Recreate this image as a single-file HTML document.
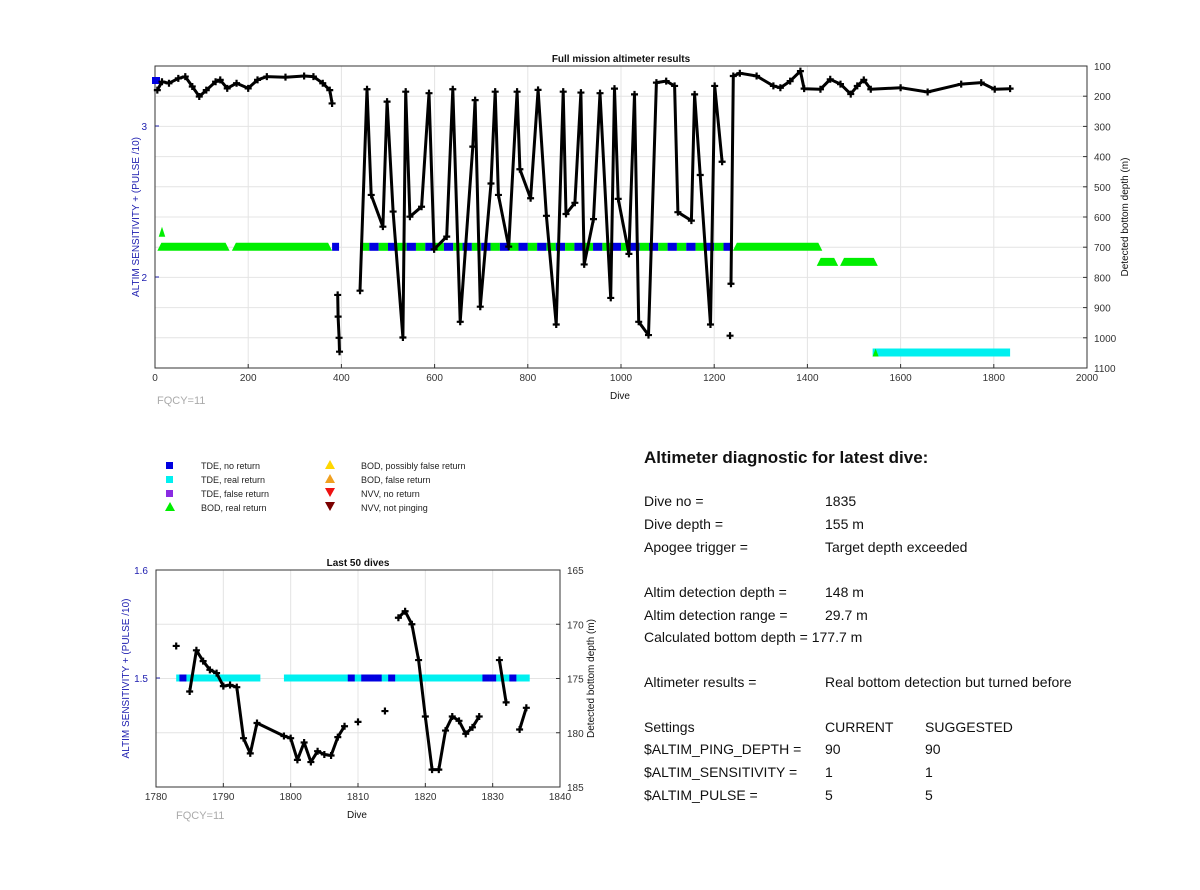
<!DOCTYPE html>
<html><head><meta charset="utf-8"><style>
body{margin:0;background:#fff;}
svg{font-family:"Liberation Sans",sans-serif;}
</style></head><body>
<svg width="1200" height="885" viewBox="0 0 1200 885">
<g id="main"></g>
<g id="small"></g>
<g font-size="9" fill="#222">
 <rect x="166" y="462" width="7" height="7" fill="#0000e0"/>
 <text x="201" y="469">TDE, no return</text>
 <rect x="166" y="476" width="7" height="7" fill="#00f0f0"/>
 <text x="201" y="483">TDE, real return</text>
 <rect x="166" y="490" width="7" height="7" fill="#8a2be2"/>
 <text x="201" y="497">TDE, false return</text>
 <polygon points="170,502 165,511 175,511" fill="#00ee00"/>
 <text x="201" y="511">BOD, real return</text>
 <polygon points="330,460 325,469 335,469" fill="#ffd700"/>
 <text x="361" y="469">BOD, possibly false return</text>
 <polygon points="330,474 325,483 335,483" fill="#f0a020"/>
 <text x="361" y="483">BOD, false return</text>
 <polygon points="325,488 335,488 330,497" fill="#ee1111"/>
 <text x="361" y="497">NVV, no return</text>
 <polygon points="325,502 335,502 330,511" fill="#7a0000"/>
 <text x="361" y="511">NVV, not pinging</text>
</g>
<g font-size="14" fill="#111">
 <text x="644" y="463" font-size="17" font-weight="bold">Altimeter diagnostic for latest dive:</text>
 <text x="644" y="506">Dive no =</text><text x="825" y="506">1835</text>
 <text x="644" y="529">Dive depth =</text><text x="825" y="529">155 m</text>
 <text x="644" y="552">Apogee trigger =</text><text x="825" y="552">Target depth exceeded</text>
 <text x="644" y="597">Altim detection depth =</text><text x="825" y="597">148 m</text>
 <text x="644" y="620">Altim detection range =</text><text x="825" y="620">29.7 m</text>
 <text x="644" y="642">Calculated bottom depth = 177.7 m</text>
 <text x="644" y="687">Altimeter results =</text><text x="825" y="687">Real bottom detection but turned before</text>
 <text x="644" y="732">Settings</text><text x="825" y="732">CURRENT</text><text x="925" y="732">SUGGESTED</text>
 <text x="644" y="754">$ALTIM_PING_DEPTH =</text><text x="825" y="754">90</text><text x="925" y="754">90</text>
 <text x="644" y="777">$ALTIM_SENSITIVITY =</text><text x="825" y="777">1</text><text x="925" y="777">1</text>
 <text x="644" y="800">$ALTIM_PULSE =</text><text x="825" y="800">5</text><text x="925" y="800">5</text>
</g>
</svg>
<script>
// ---- main chart data ----
const mainDives=[5,15,30,50,65,80,95,110,130,140,155,175,200,220,240,280,320,340,360,375,380,null,392,393,395,396,null,440,455,464,489,498,511,532,538,547,572,588,599,626,639,655,682,687,698,721,730,737,759,777,783,806,822,840,861,876,882,901,914,921,941,955,978,986,994,1017,1029,1038,1059,1076,1097,1115,1122,1151,1158,1170,1192,1201,1217,null,1234,null,1236,1241,1255,1291,1327,1342,1363,1385,1393,1428,1449,1471,1493,1507,1521,1536,1600,1658,1730,1773,1802,1835];
const mainDepth=[180,152,157,141,135,168,201,180,152,146,174,157,174,146,135,137,133,135,157,180,224,null,858,930,1000,1046,null,844,177,527,632,218,582,999,185,599,566,190,707,665,177,947,367,213,897,489,185,527,698,185,442,538,179,596,956,185,590,553,188,757,607,190,868,175,540,722,194,947,991,155,150,166,584,612,194,461,956,166,417,null,993,null,821,133,124,133,166,172,150,117,175,177,144,160,193,166,146,177,172,186,160,155,177,175];
// status segments: start dive, end dive, level, type
const segStart=[5,165,380,440,1000,1240,1420,1470,1540,8];
const segEnd=[160,380,395,1000,1240,1432,1466,1551,1835,22];
const segLevel=[2.2,2.2,2.2,2.2,2.2,2.2,2.1,2.1,1.5,2.3];
const segType=["bod","bod","tde","mix","mix","bod","bod","bod","cyan","tri"];
const mainXTicks=[0,200,400,600,800,1000,1200,1400,1600,1800,2000];
const mainRTicks=[100,200,300,400,500,600,700,800,900,1000,1100];
const mainLTicks=[2,3];
// ---- last 50 dives data ----
const smDives=[1783,null,1785,1786,1787,1788,1789,1790,1791,1792,1793,1794,1795,1799,1800,1801,1802,1803,1804,1805,1806,1807,1808,null,1810,null,1814,null,1816,1817,1818,1819,1820,1821,1822,1823,1824,1825,1826,1827,1828,null,1831,1832,null,1834,1835];
const smDepth=[172.0,null,176.2,172.4,173.4,174.2,174.5,175.7,175.6,175.8,180.5,181.9,179.1,180.3,180.5,182.5,180.9,182.7,181.7,182.0,182.1,180.4,179.4,null,179.0,null,178.0,null,169.4,168.8,170.0,173.3,178.5,183.4,183.4,179.8,178.5,178.9,180.1,179.5,178.5,null,173.3,177.2,null,179.7,177.7];
const smCyanStart=[1783,1799];
const smCyanEnd=[1795.5,1835.5];
const smBlue=[1784,1809,1811,1812,1813,1815,1829,1830,1833];
const smXTicks=[1780,1790,1800,1810,1820,1830,1840];
const smRTicks=[165,170,175,180,185];
const smLTicks=[1.5,1.6];

const NS="http://www.w3.org/2000/svg";
function mk(parent,tag,attrs,name){const e=document.createElementNS(NS,tag);for(const k in attrs)e.setAttribute(k,attrs[k]);


parent.appendChild(e);return e;}
function txt(parent,x,y,s,attrs,name){const t=mk(parent,'text',Object.assign({x:x,y:y},attrs),name);t.textContent=s;return t;}

function axes(g,box,xs,xt,rt,rs,lt,ls,title,lLabel,rLabel){
  const [L,T,R,B]=box;
  xt.forEach(v=>{mk(g,'line',{x1:xs(v),x2:xs(v),y1:T,y2:B,stroke:'#e4e4e4'},'x-grid');
    mk(g,'line',{x1:xs(v),x2:xs(v),y1:B,y2:B-4,stroke:'#333'},'x-tick');
    txt(g,xs(v),B+13,String(v),{'font-size':10,'text-anchor':'middle',fill:'#333'},'x-tick-label');});
  rt.forEach(v=>{mk(g,'line',{x1:L,x2:R,y1:rs(v),y2:rs(v),stroke:'#e4e4e4'},'y-grid');
    mk(g,'line',{x1:R,x2:R-4,y1:rs(v),y2:rs(v),stroke:'#333'},'right-tick');
    txt(g,R+7,rs(v)+4,String(v),{'font-size':10,fill:'#333'},'right-tick-label');});
  lt.forEach(v=>{mk(g,'line',{x1:L,x2:L+4,y1:ls(v),y2:ls(v),stroke:'#2020b0'},'left-tick');
    txt(g,L-8,ls(v)+4,String(v),{'font-size':10,'text-anchor':'end',fill:'#2020b0'},'left-tick-label');});
  mk(g,'rect',{x:L,y:T,width:R-L,height:B-T,fill:'none',stroke:'#333','stroke-width':1},'plot-frame');
  txt(g,(L+R)/2,T-4,title,{'font-size':10,'font-weight':'bold','text-anchor':'middle',fill:'#111'},'chart-title');
  const lx=lLabel[0], rx=rLabel[0], my=(T+B)/2;
  txt(g,lx,my,lLabel[1],{'font-size':10,'text-anchor':'middle',fill:'#2020b0',transform:`rotate(-90 ${lx} ${my})`},'left-axis-title');
  txt(g,rx,my,rLabel[1],{'font-size':10,'text-anchor':'middle',fill:'#111',transform:`rotate(-90 ${rx} ${my})`},'right-axis-title');
}
function series(g,dives,depth,xs,ys){
  let d='';let pen=false;
  dives.forEach((v,i)=>{if(v===null){pen=false;return;}d+=(pen?'L':'M')+xs(v).toFixed(1)+' '+ys(depth[i]).toFixed(1);pen=true;});
  mk(g,'path',{d:d,fill:'none',stroke:'#000','stroke-width':3,'stroke-linejoin':'round'},'depth-line');
  dives.forEach((v,i)=>{if(v===null)return;const x=xs(v),y=ys(depth[i]);
    mk(g,'path',{d:`M${x-3.5} ${y}H${x+3.5}M${x} ${y-3.5}V${y+3.5}`,stroke:'#000','stroke-width':2.2},'depth-marker');});
}
// main
(function(){
  const g=document.getElementById('main');
  const L=155,T=66,R=1087,B=368;
  const xs=v=>L+(v-0)/2000*(R-L);
  const rs=v=>T+(v-100)/1000*(B-T);
  const ls=v=>126+(3-v)*151;
  axes(g,[L,T,R,B],xs,mainXTicks,mainRTicks,rs,mainLTicks,ls,'Full mission altimeter results',[139,'ALTIM SENSITIVITY + (PULSE /10)'],[1128,'Detected bottom depth (m)']);
  txt(g,620,399,'Dive',{'font-size':10,'text-anchor':'middle',fill:'#111'},'x-axis-title');
  txt(g,157,404,'FQCY=11',{'font-size':11,fill:'#aaa'},'fqcy-label');
  segStart.forEach((s,i)=>{const x1=xs(s),x2=xs(segEnd[i]),y=ls(segLevel[i]);const t=segType[i];
    if(t==='bod'){mk(g,'polygon',{points:`${x1},${y+4} ${x1+4},${y-4} ${x2-4},${y-4} ${x2},${y+4}`,fill:'#00ee00'},'status-bod-real');}
    else if(t==='tri'){mk(g,'polygon',{points:`${x1},${y+5} ${(x1+x2)/2},${y-5} ${x2},${y+5}`,fill:'#00ee00'},'status-bod-real');}
    else if(t==='tde'){mk(g,'rect',{x:x1,y:y-4,width:x2-x1,height:8,fill:'#0000e0'},'status-tde-no-return');}
    else if(t==='cyan'){mk(g,'rect',{x:x1,y:y-4,width:x2-x1,height:8,fill:'#00f0f0'},'status-tde-real');
      mk(g,'polygon',{points:`${x1},${y+4} ${x1+3},${y-4} ${x1+6},${y+4}`,fill:'#00ee00'},'status-bod-real');}
    else{const n=Math.round((segEnd[i]-s)/20);for(let k=0;k<n;k++){const a=xs(s+k*20),b=xs(s+k*20+20);
      mk(g,'rect',{x:a,y:y-4,width:b-a,height:8,fill:k%2?'#0000e0':'#00ee00'},'status-mixed');}}
  });
  mk(g,'rect',{x:152,y:77,width:8,height:7,fill:'#0000e0'},'status-tde-top');
  series(g,mainDives,mainDepth,xs,rs);
})();
// small
(function(){
  const g=document.getElementById('small');
  const L=156,T=570,R=560,B=787;
  const xs=v=>L+(v-1780)/60*(R-L);
  const rs=v=>T+(v-165)/20*(B-T);
  const ls=v=>678-(v-1.5)*1080;
  axes(g,[L,T,R,B],xs,smXTicks,smRTicks,rs,smLTicks,ls,'Last 50 dives',[129,'ALTIM SENSITIVITY + (PULSE /10)'],[594,'Detected bottom depth (m)']);
  txt(g,357,818,'Dive',{'font-size':10,'text-anchor':'middle',fill:'#111'},'x-axis-title');
  txt(g,176,819,'FQCY=11',{'font-size':11,fill:'#aaa'},'fqcy-label');
  smCyanStart.forEach((s,i)=>mk(g,'rect',{x:xs(s),y:ls(1.5)-3.5,width:xs(smCyanEnd[i])-xs(s),height:7,fill:'#00f0f0'},'status-tde-real'));
  smBlue.forEach(v=>mk(g,'rect',{x:xs(v)-3.5,y:ls(1.5)-3.5,width:7,height:7,fill:'#0000e0'},'status-tde-no-return'));
  series(g,smDives,smDepth,xs,rs);
})();
</script>
</body></html>
